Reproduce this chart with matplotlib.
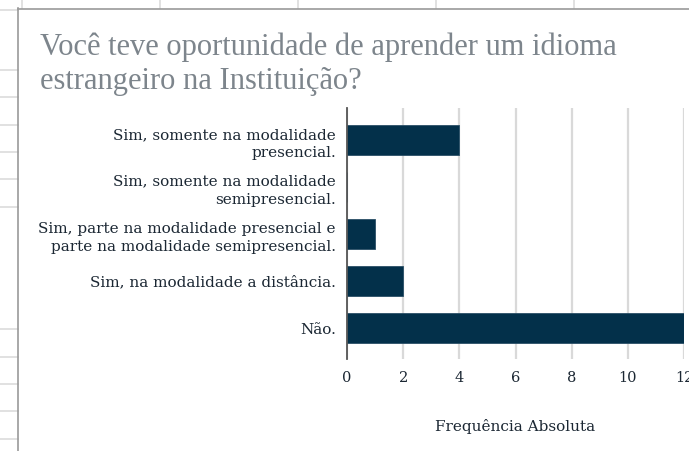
import matplotlib
matplotlib.use("Agg")
import matplotlib.pyplot as plt
from matplotlib.lines import Line2D

categories = [
    "Sim, somente na modalidade\npresencial.",
    "Sim, somente na modalidade\nsemipresencial.",
    "Sim, parte na modalidade presencial e\nparte na modalidade semipresencial.",
    "Sim, na modalidade a distância.",
    "Não.",
]
values = [4, 0, 1, 2, 12]
xticks = [0, 2, 4, 6, 8, 10, 12]
title = "Você teve oportunidade de aprender um idioma\nestrangeiro na Instituição?"
xlabel = "Frequência Absoluta"

W, H = 689, 451
fig = plt.figure(figsize=(W / 100, H / 100), dpi=100)
fig.patch.set_facecolor("white")

def fx(px):
    return px / W

def fy(py):
    return 1 - py / H

# spreadsheet background grid (outside chart)
grid_col = "#dcdcdc"
for yy in [10, 70, 97, 125, 152, 179, 207, 329, 357, 384, 411, 439]:
    fig.add_artist(Line2D([0, fx(18)], [fy(yy), fy(yy)], color=grid_col, lw=1.2))
for xx in [22, 160, 298, 436, 574]:
    fig.add_artist(Line2D([fx(xx), fx(xx)], [1, fy(8)], color=grid_col, lw=1.2))
# chart border
fig.add_artist(Line2D([fx(18), fx(18)], [fy(8), 0], color="#9a9a9a", lw=1.2))
fig.add_artist(Line2D([fx(18), 1], [fy(8.5), fy(8.5)], color="#9a9a9a", lw=1.2))

ax = fig.add_axes([fx(347), fy(359), fx(684) - fx(347), (359 - 108) / H])
ypos = list(range(len(categories)))
ax.barh(ypos, values, height=0.64, color="#03304a", edgecolor="#2a4f66", linewidth=0.6, zorder=3)
ax.set_xlim(0, 12)
ax.set_ylim(4.66, -0.69)
ax.set_xticks(xticks)
ax.set_xticklabels([str(t) for t in xticks])
ax.set_yticks(ypos)
ax.set_yticklabels(categories, linespacing=1.4)
ax.grid(axis="x", color="#d9d9d9", lw=1.6, zorder=0)
ax.set_axisbelow(True)
for s in ["top", "right", "bottom"]:
    ax.spines[s].set_visible(False)
ax.spines["left"].set_color("#555555")
ax.spines["left"].set_linewidth(1.3)
ax.spines["left"].set_zorder(4)
ax.tick_params(axis="both", length=0, colors="#1b2733")
ax.tick_params(axis="y", pad=8, labelsize=11)
ax.tick_params(axis="x", pad=9, labelsize=10.5)
for lab in ax.get_yticklabels() + ax.get_xticklabels():
    lab.set_fontfamily("DejaVu Serif")
    lab.set_color("#1b2733")
ax.set_xlabel(xlabel, fontfamily="DejaVu Serif", fontsize=11, color="#1b2733", labelpad=24)

fig.text(fx(40), fy(32), title, ha="left", va="top", fontfamily="Liberation Serif",
         fontsize=22, color="#7d858c", linespacing=1.25)

fig.savefig("out.png", dpi=100, facecolor="white")
